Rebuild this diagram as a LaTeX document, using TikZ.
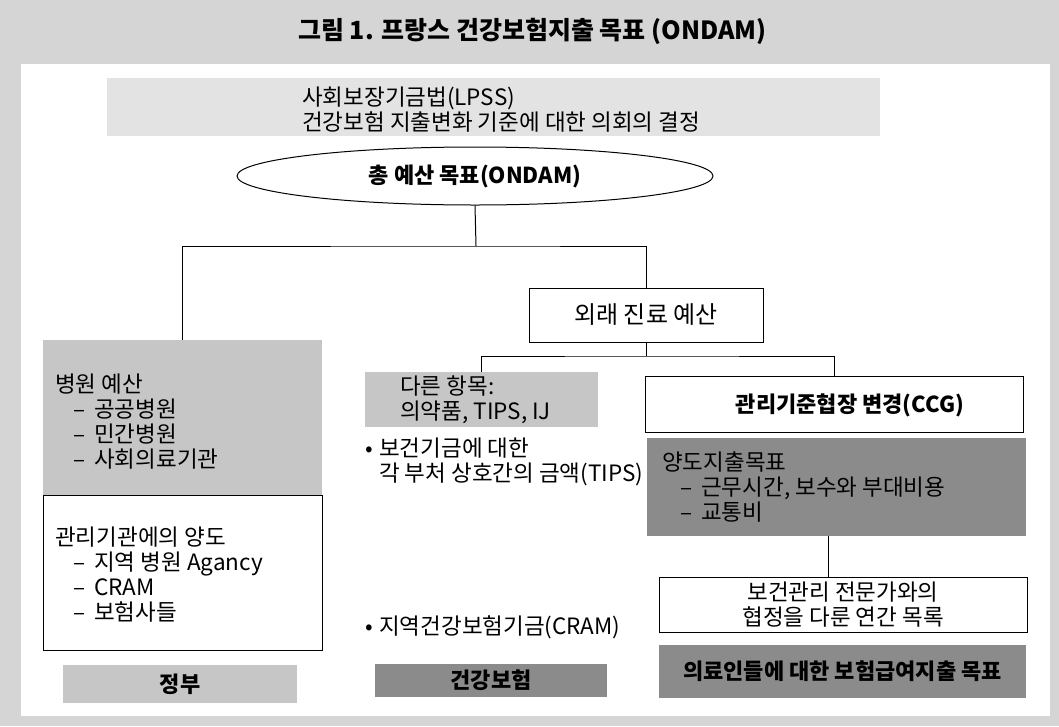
\documentclass[tikz,border=0pt]{standalone}
\usepackage{fontspec}
\setmainfont{Noto Sans CJK KR}
\usetikzlibrary{shapes.geometric}
\definecolor{bgc}{HTML}{D5D5D5}
\definecolor{lightc}{HTML}{E3E3E3}
\definecolor{midc}{HTML}{C6C6C6}
\definecolor{darkc}{HTML}{8B8B8B}
\newcommand{\ind}{\hspace*{18pt}}
\newcommand{\dsh}{–\hspace*{4pt} }
\begin{document}
\begin{tikzpicture}[x=1pt,y=-1pt,
  font=\fontsize{22.5}{25}\selectfont,
  plain/.style={rectangle, inner sep=0pt, outer sep=0pt},
  lightbox/.style={plain, fill=lightc},
  midbox/.style={plain, fill=midc},
  darkbox/.style={plain, fill=darkc},
  whitebox/.style={plain, fill=white, draw=black, line width=1pt},
  txt/.style={inner sep=0pt, anchor=west, align=left},
  conn/.style={draw=black, line width=1pt},
  boldtxt/.style={font=\fontsize{22}{26}\selectfont\bfseries}]
\useasboundingbox (0,0) rectangle (1059,726);
\fill[bgc] (0,0) rectangle (1059,726);
\fill[white] (21,64) rectangle (1050,716);
\node[inner sep=0pt, font=\fontsize{25}{28}\selectfont\bfseries] (title) at (532.5,31) {그림 1. 프랑스 건강보험지출 목표 (ONDAM)};

% boxes
\node[lightbox, minimum width=773pt, minimum height=58pt] (lpss) at (493.5,107) {};
\node[ellipse, draw=black, line width=1pt, fill=white, inner sep=0pt, minimum width=476pt, minimum height=58pt, boldtxt] (ell) at (475,176) {총 예산 목표(ONDAM)};
\node[midbox, minimum width=279pt, minimum height=155pt] (hosp) at (182.5,417.5) {};
\node[whitebox, minimum width=279pt, minimum height=155pt] (mgmt) at (182.5,572.5) {};
\node[midbox, minimum width=234pt, minimum height=38pt, boldtxt] (gov) at (180,684) {정부};
\node[whitebox, minimum width=234pt, minimum height=54pt, font=\fontsize{24}{26}\selectfont] (out) at (646,315) {외래 진료 예산};
\node[midbox, minimum width=233pt, minimum height=55pt] (other) at (481.5,399.5) {};
\node[darkbox, minimum width=232pt, minimum height=33pt, boldtxt] (ins) at (491,680.5) {건강보험};
\node[whitebox, minimum width=378pt, minimum height=56pt] (ccg) at (834,404) {};
\node[darkbox, minimum width=379pt, minimum height=98pt] (trans) at (836.5,487) {};
\node[whitebox, minimum width=368pt, minimum height=55pt, align=center] (plan) at (843,604.5) {보건관리 전문가와의\\협정을 다룬 연간 목록};
\node[darkbox, minimum width=367pt, minimum height=53pt, boldtxt] (target) at (842.5,671.5) {의료인들에 대한 보험급여지출 목표};

% texts
\node[txt] (lpsst) at (302,109.5) {사회보장기금법(LPSS)\\건강보험 지출변화 기준에 대한 의회의 결정};
\node[txt] (hospt) at (55,422) {병원 예산\\\ind\dsh 공공병원\\\ind\dsh 민간병원\\\ind\dsh 사회의료기관};
\node[txt] (mgmtt) at (55,575) {관리기관에의 양도\\\ind\dsh 지역 병원 Agancy\\\ind\dsh CRAM\\\ind\dsh 보험사들};
\node[txt] (othert) at (400,400) {다른 항목:\\의약품, TIPS, IJ};
\node[txt] (bul1) at (365,461.5) {\makebox[14pt][l]{•}보건기금에 대한\\\hspace*{14pt}각 부처 상호간의 금액(TIPS)};
\node[txt] (bul2) at (365,627) {\makebox[14pt][l]{•}지역건강보험기금(CRAM)};
\node[txt] (transt) at (662,487) {양도지출목표\\\ind\dsh 근무시간, 보수와 부대비용\\\ind\dsh 교통비};
\node[inner sep=0pt, boldtxt] (ccgt) at (850,405) {관리기준협장 변경(CCG)};

% connectors
\coordinate (j1) at (476,246);
\coordinate (j2) at (646,356);
\draw[conn] (ell.south) -- (j1);
\draw[conn] (hosp.north) |- (j1) -| (out.north);
\draw[conn] (out.south) -- (j2);
\draw[conn] (other.north) |- (j2) -| (ccg.north);
\draw[conn] ([xshift=-8.5pt]trans.south) -- ([xshift=-8.5pt]trans.south |- plan.north);
\end{tikzpicture}
\end{document}
